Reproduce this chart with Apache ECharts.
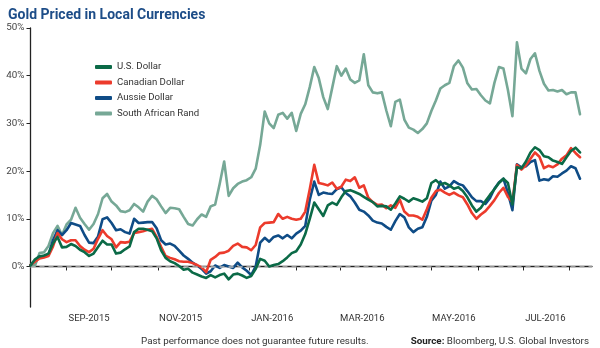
<!DOCTYPE html>
<html>
<head>
<meta charset="utf-8">
<script src="https://cdn.jsdelivr.net/npm/echarts@6/dist/echarts.min.js"></script>
<style>html,body{margin:0;padding:0;background:#fff}#c{width:600px;height:348px}</style>
</head>
<body>
<div id="c"></div>
<script>
// Axis span (daily categories) and sampling grid of the read values
const axisStart = '2015-08-08';
const axisEnd = '2016-08-16';
const sampleStart = '2015-08-08';
const sampleStepDays = 3;

const seriesNames = ['U.S. Dollar', 'Canadian Dollar', 'Aussie Dollar', 'South African Rand'];
const seriesColors = ['#0b6a47', '#ec3b2c', '#0f4c86', '#76a896'];

const usDollar = [0.2,1.5,2.1,2.3,2.7,4.8,6.2,4.0,4.1,4.7,4.3,3.5,3.0,2.2,2.7,4.1,5.4,4.6,4.6,2.7,
2.9,3.6,4.2,7.2,7.9,7.9,7.7,7.4,5.9,3.4,1.8,1.1,0.7,0.1,-0.7,-0.5,-1.3,-1.7,-2.1,-2.4,
-1.8,-2.3,-1.8,-1.5,-2.7,-1.7,-1.5,-1.9,-2.4,-2.0,-0.5,1.6,1.2,0.0,0.3,0.5,1.1,1.9,2.8,3.2,
4.6,6.8,10.0,13.4,12.0,10.6,12.8,13.4,12.9,14.5,15.8,16.0,15.6,15.2,14.6,14.0,13.5,12.6,12.7,12.6,
11.9,13.2,14.7,14.2,13.6,14.3,14.0,13.6,14.3,17.5,18.1,17.2,17.5,17.0,16.3,16.6,15.8,14.5,12.8,11.5,
12.3,13.7,15.0,16.2,17.5,18.4,17.5,13.0,20.8,20.6,22.0,23.9,25.0,24.4,23.1,22.9,22.2,21.9,21.5,22.9,
24.2,24.9,23.9];

const canadianDollar = [0.3,1.0,1.7,1.9,2.2,4.2,7.0,5.7,5.1,5.5,5.5,4.3,3.5,3.0,3.7,5.8,7.6,6.4,5.7,4.0,
5.1,5.0,5.2,7.0,7.2,7.4,7.7,7.9,6.2,4.1,2.2,1.8,1.5,1.1,1.0,1.0,0.7,0.3,-0.2,-1.2,
1.4,2.0,2.8,2.9,3.3,4.3,4.8,4.1,4.0,3.4,4.5,8.2,9.1,9.2,9.3,11.0,10.0,10.4,10.0,9.8,
10.0,11.5,16.2,21.3,17.5,17.3,17.0,17.6,16.3,16.7,18.2,17.9,18.7,16.5,17.0,14.4,13.5,12.9,13.0,12.2,
12.8,12.3,14.0,11.5,10.7,10.7,10.4,9.8,12.0,14.4,15.8,16.1,15.5,15.0,15.5,14.9,14.5,13.0,11.2,10.0,
10.9,11.6,12.7,13.9,15.4,16.5,14.6,13.5,21.3,20.3,21.2,22.6,23.9,23.0,20.6,21.1,20.8,21.4,22.6,23.3,
24.8,23.8,22.9];

const aussieDollar = [0.3,1.2,2.1,2.1,2.5,5.5,7.6,6.6,7.6,9.1,8.8,8.5,6.6,5.0,4.9,6.3,9.9,10.3,9.1,7.6,
7.8,7.2,6.9,10.0,9.1,9.2,9.3,9.3,8.0,5.5,4.6,4.8,4.3,3.3,2.3,1.6,0.8,0.2,-0.5,-1.5,
-1.0,0.2,-0.3,0.3,0.0,-0.3,0.8,-0.2,-0.9,-1.8,0.0,5.0,6.0,5.2,6.2,6.5,5.9,6.6,5.9,6.9,
7.5,8.5,14.0,17.8,15.0,15.5,15.3,15.2,16.2,16.6,15.4,14.7,13.4,11.9,11.5,10.7,9.6,9.2,9.0,8.3,
7.7,9.5,11.0,10.3,8.2,7.2,7.9,8.2,10.4,13.8,15.0,17.8,16.3,16.8,17.9,17.3,17.0,15.8,14.5,13.7,
13.7,13.1,14.3,16.3,17.6,18.4,15.4,11.8,21.4,20.8,21.0,21.9,22.3,18.0,18.3,18.1,18.9,18.8,19.5,20.1,
21.0,20.6,18.4];

const southAfricanRand = [0.3,0.2,2.8,3.0,4.3,7.0,8.5,6.6,8.8,9.8,12.3,10.2,8.9,7.7,8.9,11.0,14.3,15.2,13.6,12.8,
11.6,11.4,11.8,13.1,12.4,11.5,13.6,14.8,14.1,12.6,11.2,12.3,12.2,12.0,10.4,8.9,8.6,9.9,10.9,10.4,
12.6,13.0,17.3,22.0,14.8,16.4,17.3,17.8,18.1,18.7,20.5,25.5,32.5,30.0,29.0,31.8,32.2,31.0,32.2,28.4,
32.0,34.0,37.6,41.8,39.5,35.5,33.0,37.5,42.0,40.0,41.5,39.2,38.5,39.0,44.5,38.0,36.5,36.3,36.5,32.7,
29.4,34.5,35.0,30.8,29.1,28.7,28.0,28.8,30.0,32.6,34.8,37.3,38.0,38.5,42.0,43.2,41.7,38.4,37.1,37.2,
35.9,34.8,34.2,38.5,41.8,41.5,37.0,31.5,47.0,41.5,40.5,43.5,44.7,41.0,38.3,36.9,37.0,36.7,37.0,36.1,
36.5,36.5,31.9];

const yTickValues = [0, 10, 20, 30, 40, 50];
const monthLabels = ['JAN','FEB','MAR','APR','MAY','JUN','JUL','AUG','SEP','OCT','NOV','DEC'];

const DAY = 86400000;
function parseDay(s) { const p = s.split('-').map(Number); return Date.UTC(p[0], p[1] - 1, p[2]); }
function fmtDay(t) { return new Date(t).toISOString().slice(0, 10); }

const categories = [];
for (let t = parseDay(axisStart); t <= parseDay(axisEnd); t += DAY) categories.push(fmtDay(t));

function buildData(values) {
  const t0 = parseDay(sampleStart);
  return values.map((v, i) => [fmtDay(t0 + i * sampleStepDays * DAY), v]);
}

const allValues = [usDollar, canadianDollar, aussieDollar, southAfricanRand];
const zOrder = [5, 4, 3, 2];

const FONT = 'Roboto, sans-serif';

const series = allValues.map((vals, i) => ({
  name: seriesNames[i],
  type: 'line',
  data: buildData(vals),
  showSymbol: false,
  symbol: 'none',
  z: zOrder[i],
  lineStyle: { width: 2.6, color: seriesColors[i], join: 'round', cap: 'round' },
  itemStyle: { color: seriesColors[i] },
  emphasis: { disabled: true },
  animation: false
}));
series[3].markLine = {
  silent: true,
  symbol: 'none',
  label: { show: false },
  lineStyle: { type: [5, 4], color: '#bdbdbd', width: 1.5 },
  data: [{ yAxis: 0 }]
};

const chart = echarts.init(document.getElementById('c'), null, { renderer: 'canvas' });
chart.setOption({
  animation: false,
  backgroundColor: '#fff',
  title: [
    { text: 'Gold Priced in Local Currencies', left: 3, top: 3,
      textStyle: { fontFamily: FONT, fontSize: 14, fontWeight: 'bold', color: '#1d4d88' } },
    { text: 'Past performance does not guarantee future results.', left: 136, top: 332,
      textStyle: { fontFamily: FONT, fontSize: 9.8, fontWeight: 'normal', color: '#333' } },
    { text: '{b|Source:} Bloomberg, U.S. Global Investors', right: 6, top: 332,
      textStyle: { fontFamily: FONT, fontSize: 9.8, fontWeight: 'normal', color: '#333',
        rich: { b: { fontFamily: FONT, fontSize: 9.8, fontWeight: 'bold', color: '#222' } } } }
  ],
  legend: {
    orient: 'vertical',
    left: 90,
    top: 56,
    itemWidth: 17,
    itemHeight: 4,
    itemGap: 3.5,
    data: seriesNames.map(n => ({ name: n, icon: 'roundRect' })),
    textStyle: { fontFamily: FONT, fontSize: 9.6, color: '#333', lineHeight: 12 },
    selectedMode: false
  },
  grid: { left: 30.5, right: 8, top: 28, bottom: 41, containLabel: false },
  xAxis: {
    type: 'category',
    data: categories,
    boundaryGap: false,
    axisLine: { lineStyle: { color: '#222', width: 1.3 } },
    axisTick: {
      length: 4,
      lineStyle: { color: '#222', width: 1 },
      interval: (idx, val) => val.slice(8) === '01'
    },
    axisLabel: {
      interval: (idx, val) => val.slice(8) === '16' && (+val.slice(5, 7)) % 2 === 1,
      formatter: (val) => monthLabels[+val.slice(5, 7) - 1] + '-' + val.slice(0, 4),
      fontFamily: FONT, fontSize: 9.5, color: '#333', margin: 7
    },
    splitLine: { show: false }
  },
  yAxis: {
    type: 'value',
    min: -8.5,
    max: 50,
    axisLine: { show: true, lineStyle: { color: '#222', width: 1.3 } },
    axisTick: { show: true, length: 4, lineStyle: { color: '#222' }, customValues: yTickValues },
    axisLabel: { customValues: yTickValues, formatter: v => v + '%',
      fontFamily: FONT, fontSize: 9.8, color: '#444', margin: 6 },
    splitLine: { show: false }
  },
  series: series
});
</script>
</body>
</html>
